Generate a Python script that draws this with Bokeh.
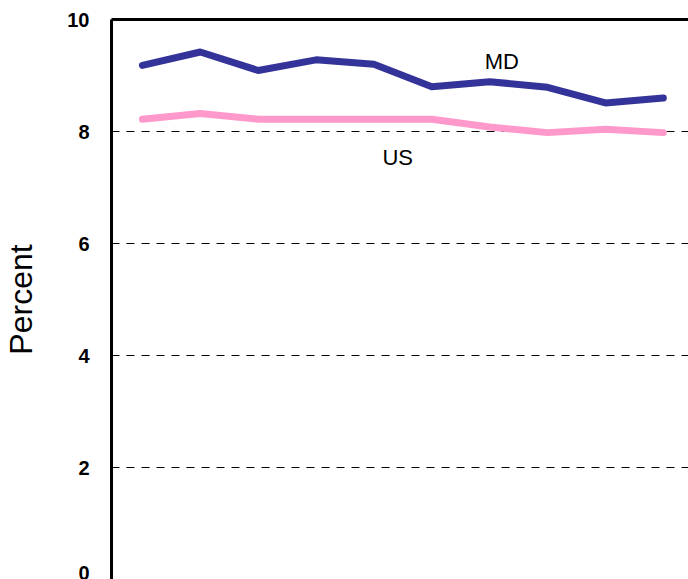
from bokeh.plotting import figure
from bokeh.models import Range1d, FixedTicker, LinearAxis, Label
from bokeh.embed import file_html
from bokeh.resources import INLINE

# ---- data ----
years = [1995, 1996, 1997, 1998, 1999, 2000, 2001, 2002, 2003, 2004]
md_values = [9.18, 9.42, 9.09, 9.28, 9.20, 8.80, 8.89, 8.79, 8.51, 8.60]
us_values = [8.22, 8.32, 8.22, 8.22, 8.22, 8.22, 8.08, 7.98, 8.04, 7.98]
y_ticks = [0, 2, 4, 6, 8, 10]
grid_ticks = [2, 4, 6, 8]
series_names = ["MD", "US"]
y_label = "Percent"

MD_COLOR = "#333399"
US_COLOR = "#FF99CC"
FONT = "Liberation Sans"

p = figure(width=688, height=579, output_backend="svg", toolbar_location=None,
           x_range=Range1d(years[0] - 0.534, years[0] + 9.435),
           y_range=Range1d(0, 10),
           x_axis_location=None,
           min_border_left=109, min_border_top=19,
           min_border_right=0, min_border_bottom=0)
p.outline_line_color = None
p.background_fill_color = "white"
p.border_fill_color = "white"

# y axis
ax = p.yaxis[0]
ax.ticker = FixedTicker(ticks=y_ticks)
ax.axis_line_width = 3
ax.axis_line_color = "black"
ax.major_tick_out = 0
ax.major_tick_in = 0
ax.minor_tick_out = 0
ax.minor_tick_in = 0
ax.major_label_standoff = 22
ax.major_label_text_font = FONT
ax.major_label_text_font_size = "20px"
ax.major_label_text_font_style = "bold"
ax.major_label_text_color = "black"
ax.axis_label = y_label
ax.axis_label_text_font = FONT
ax.axis_label_text_font_size = "32px"
ax.axis_label_text_font_style = "normal"
ax.axis_label_text_color = "black"
ax.axis_label_standoff = 25

# top border
top = LinearAxis(ticker=FixedTicker(ticks=[]), axis_line_width=3,
                 axis_line_color="black", major_tick_out=0, major_tick_in=0,
                 minor_tick_out=0, minor_tick_in=0,
                 major_label_text_font_size="0px")
p.add_layout(top, "above")

# grid
p.xgrid.grid_line_color = None
p.ygrid.ticker = FixedTicker(ticks=grid_ticks)
p.ygrid.grid_line_color = "black"
p.ygrid.grid_line_width = 1
p.ygrid.grid_line_dash = "8 7"

# lines
p.line(years, us_values, line_color=US_COLOR, line_width=7,
       line_cap="round", line_join="round")
p.line(years, md_values, line_color=MD_COLOR, line_width=7,
       line_cap="round", line_join="round")

# series labels
p.add_layout(Label(x=years[0] + 6.21, y=9.25, text=series_names[0],
                   text_font=FONT, text_font_size="22px", text_color="black",
                   text_align="center", text_baseline="middle"))
p.add_layout(Label(x=years[0] + 4.41, y=7.53, text=series_names[1],
                   text_font=FONT, text_font_size="22px", text_color="black",
                   text_align="center", text_baseline="middle"))

open("out.html", "w").write(file_html(p, INLINE))
